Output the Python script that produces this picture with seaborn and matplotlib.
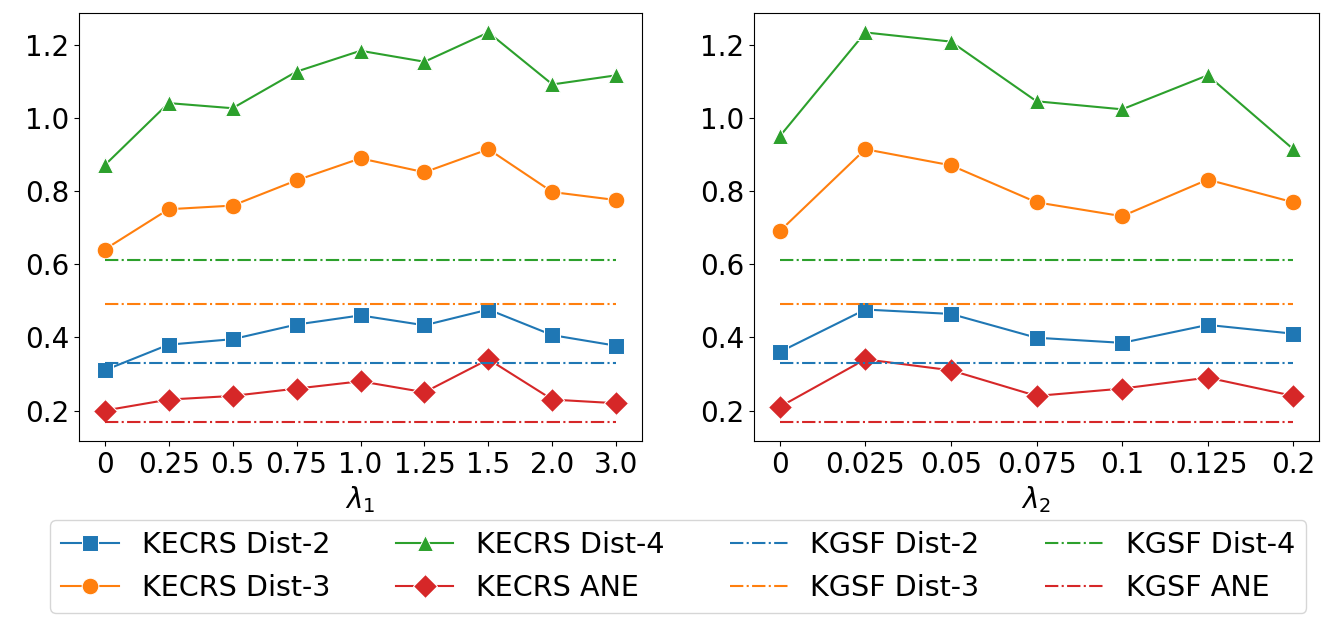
import matplotlib
matplotlib.use('Agg')
import matplotlib.pyplot as plt
import seaborn as sns

# x categories
lambda1 = ['0', '0.25', '0.5', '0.75', '1.0', '1.25', '1.5', '2.0', '3.0']
lambda2 = ['0', '0.025', '0.05', '0.075', '0.1', '0.125', '0.2']

# KECRS results, lambda_1 sweep
kecrs_dist2_l1 = [0.31, 0.38, 0.395, 0.435, 0.46, 0.433, 0.476, 0.406, 0.377]
kecrs_dist3_l1 = [0.64, 0.75, 0.76, 0.829, 0.889, 0.851, 0.914, 0.797, 0.775]
kecrs_dist4_l1 = [0.87, 1.04, 1.026, 1.126, 1.183, 1.153, 1.233, 1.091, 1.116]
kecrs_ane_l1 = [0.20, 0.23, 0.24, 0.26, 0.28, 0.25, 0.34, 0.23, 0.22]

# KECRS results, lambda_2 sweep
kecrs_dist2_l2 = [0.36, 0.476, 0.464, 0.399, 0.385, 0.434, 0.41]
kecrs_dist3_l2 = [0.69, 0.914, 0.87, 0.769, 0.731, 0.831, 0.769]
kecrs_dist4_l2 = [0.949, 1.233, 1.208, 1.045, 1.023, 1.116, 0.914]
kecrs_ane_l2 = [0.21, 0.34, 0.31, 0.24, 0.26, 0.29, 0.24]

# KGSF baselines (constant)
kgsf_dist2 = 0.33
kgsf_dist3 = 0.492
kgsf_dist4 = 0.611
kgsf_ane = 0.17

pal = sns.color_palette('tab10')
markers = ['s', 'o', '^', 'D']
names = ['Dist-2', 'Dist-3', 'Dist-4', 'ANE']

fig = plt.figure(figsize=(13.35, 6.26), dpi=100)
ax1 = fig.add_axes([79 / 1335, 1 - 441 / 626, 563 / 1335, 428 / 626])
ax2 = fig.add_axes([754 / 1335, 1 - 441 / 626, 565 / 1335, 428 / 626])

panels = [
    (ax1, lambda1, [kecrs_dist2_l1, kecrs_dist3_l1, kecrs_dist4_l1, kecrs_ane_l1], r'$\lambda_1$'),
    (ax2, lambda2, [kecrs_dist2_l2, kecrs_dist3_l2, kecrs_dist4_l2, kecrs_ane_l2], r'$\lambda_2$'),
]
baselines = [kgsf_dist2, kgsf_dist3, kgsf_dist4, kgsf_ane]

for ax, xs, series, xlabel in panels:
    for i, vals in enumerate(series):
        sns.lineplot(x=xs, y=vals, ax=ax, color=pal[i], marker=markers[i],
                     markersize=12, linewidth=1.5, sort=False,
                     label='KECRS ' + names[i])
    for i, b in enumerate(baselines):
        sns.lineplot(x=xs, y=[b] * len(xs), ax=ax, color=pal[i],
                     linestyle='-.', linewidth=1.5, sort=False,
                     label='KGSF ' + names[i])
    ax.set_xlabel(xlabel, fontsize=20)
    ax.set_ylabel('')
    ax.tick_params(labelsize=20)
    ax.set_yticks([0.2, 0.4, 0.6, 0.8, 1.0, 1.2])
    ax.get_legend().remove()

handles, labels = ax1.get_legend_handles_labels()
fig.legend(handles, labels, ncol=4, fontsize=20.6, loc='lower center',
           bbox_to_anchor=(0.508, 13 / 626), borderaxespad=0,
           columnspacing=2.3)

plt.savefig('out.png', dpi=100)
